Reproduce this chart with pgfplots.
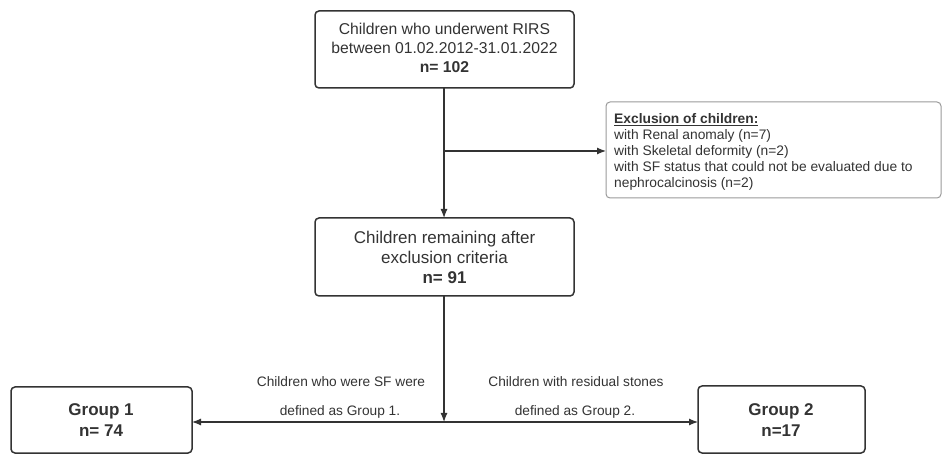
\documentclass[border=0pt]{standalone}
\usepackage{pgfplots}
\pgfplotsset{compat=1.18}
\usepackage{fontspec}
\setmainfont{Liberation Sans}
\usetikzlibrary{arrows.meta}
\definecolor{ink}{HTML}{333333}
\definecolor{lgrey}{HTML}{9A9A9A}
\begin{document}
\begin{tikzpicture}
\begin{axis}[
  scale only axis, width=943pt, height=454pt,
  xmin=0, xmax=943, ymin=0, ymax=454, y dir=reverse,
  hide axis, clip=false,
]
\path (axis cs:0,0) (axis cs:943,454);
% boxes
\draw[ink, line width=1.5pt, rounded corners=4pt] (axis cs:315,11) rectangle (axis cs:574,88);
\draw[ink, line width=1.5pt, rounded corners=4pt] (axis cs:315,218) rectangle (axis cs:574,296);
\draw[ink, line width=1.5pt, rounded corners=4pt] (axis cs:11,387) rectangle (axis cs:192,453);
\draw[ink, line width=1.5pt, rounded corners=4pt] (axis cs:698,386) rectangle (axis cs:865,453);
\draw[lgrey, line width=1pt, rounded corners=4pt] (axis cs:606,102) rectangle (axis cs:941,198);
% connectors
\addplot[ink, line width=1.2pt, -{Latex[length=9pt,width=7pt]}] coordinates {(444,88) (444,218)};
\addplot[ink, line width=1.2pt, -{Latex[length=9pt,width=7pt]}] coordinates {(444,151) (606,151)};
\addplot[ink, line width=1.2pt, -{Latex[length=9pt,width=7pt]}] coordinates {(444,296) (444,422)};
\addplot[ink, line width=1.2pt, {Latex[length=9pt,width=7pt]}-{Latex[length=9pt,width=7pt]}] coordinates {(192,422) (698,422)};
% texts
\node[text=ink, align=center, font=\fontsize{15.7}{19}\selectfont] at (axis cs:444.5,48)
  {Children who underwent RIRS\\between 01.02.2012-31.01.2022\\\textbf{n= 102}};
\node[text=ink, align=center, font=\fontsize{17}{20}\selectfont] at (axis cs:444.5,257)
  {Children remaining after\\exclusion criteria\\\textbf{n= 91}};
\node[text=ink, anchor=base west, inner sep=0pt, font=\fontsize{13.8}{16}\selectfont] at (axis cs:614,123.5) {\underline{\textbf{Exclusion of children:}}};
\node[text=ink, anchor=base west, inner sep=0pt, font=\fontsize{13.8}{16}\selectfont] at (axis cs:614,139.5) {with Renal anomaly (n=7)};
\node[text=ink, anchor=base west, inner sep=0pt, font=\fontsize{13.8}{16}\selectfont] at (axis cs:614,155.5) {with Skeletal deformity (n=2)};
\node[text=ink, anchor=base west, inner sep=0pt, font=\fontsize{13.8}{16}\selectfont] at (axis cs:614,171.5) {with SF status that could not be evaluated due to};
\node[text=ink, anchor=base west, inner sep=0pt, font=\fontsize{13.8}{16}\selectfont] at (axis cs:614,187.5) {nephrocalcinosis (n=2)};
\node[text=ink, anchor=base, inner sep=0pt, font=\fontsize{13.7}{16}\selectfont] at (axis cs:341,387) {Children who were SF were};
\node[text=ink, anchor=base, inner sep=0pt, font=\fontsize{13.7}{16}\selectfont] at (axis cs:340,416) {defined as Group 1.};
\node[text=ink, anchor=base, inner sep=0pt, font=\fontsize{13.7}{16}\selectfont] at (axis cs:576,387) {Children with residual stones};
\node[text=ink, anchor=base, inner sep=0pt, font=\fontsize{13.7}{16}\selectfont] at (axis cs:575,416) {defined as Group 2.};
\node[text=ink, anchor=base, inner sep=0pt, font=\fontsize{17}{20}\bfseries] at (axis cs:101,415) {Group 1};
\node[text=ink, anchor=base, inner sep=0pt, font=\fontsize{17}{20}\bfseries] at (axis cs:101,436) {n= 74};
\node[text=ink, anchor=base, inner sep=0pt, font=\fontsize{17}{20}\bfseries] at (axis cs:781,415) {Group 2};
\node[text=ink, anchor=base, inner sep=0pt, font=\fontsize{17}{20}\bfseries] at (axis cs:781,436) {n=17};
\end{axis}
\end{tikzpicture}
\end{document}
